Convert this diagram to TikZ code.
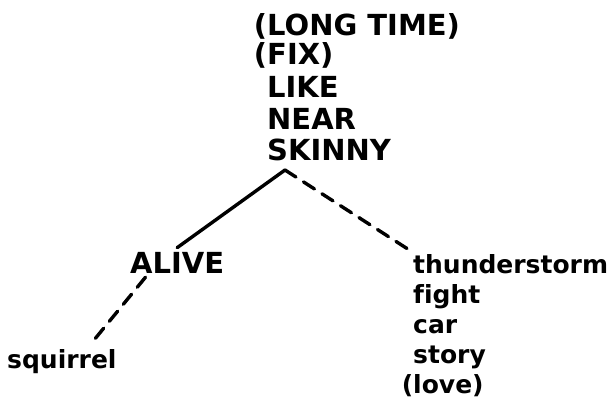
\documentclass[tikz,border=0pt]{standalone}
\usepackage{fontspec}
\setmainfont{DejaVu Sans}[Ligatures=NoCommon]
\newcommand{\bigword}{\fontsize{29}{31}\selectfont\bfseries}
\newcommand{\smallword}{\fontsize{25}{30}\selectfont\bfseries}

\begin{document}
\begin{tikzpicture}[x=1pt,y=-1pt,
  capword/.style={inner sep=4pt,anchor=base west,font=\bigword},
  lowword/.style={inner sep=4pt,anchor=base west,font=\smallword},
  branch/.style={line width=3.4pt,line cap=round},
  dashbranch/.style={branch,dash pattern=on 13pt off 9pt}]
\useasboundingbox (0,0) rectangle (610,407);
% top of the tree
\node[capword] (longtime) at (263,35) {\llap{(}LONG TIME)};
\node[capword] (fix) at (263,64) {\llap{(}FIX)};
\node[capword] (like) at (263,97) {LIKE};
\node[capword] (near) at (263,129) {NEAR};
\node[capword] (skinny) at (263,160) {SKINNY};
\coordinate (fork) at (285,170);
% left branch
\node[capword] (alive) at (126,273) {ALIVE};
\node[lowword] (squirrel) at (3,368) {squirrel};
% right branch
\node[lowword] (thunderstorm) at (409,273) {thunderstorm};
\node[lowword] (fight) at (409,303) {fight};
\node[lowword] (car) at (409,333) {car};
\node[lowword] (story) at (409,363) {story};
\node[lowword] (love) at (409,393) {\llap{(}love)};
\draw[branch] (fork) -- (alive.north);
\draw[dashbranch] (fork) -- (thunderstorm.north west);
\draw[dashbranch] (alive.205) -- (squirrel.30);
\end{tikzpicture}
\end{document}
